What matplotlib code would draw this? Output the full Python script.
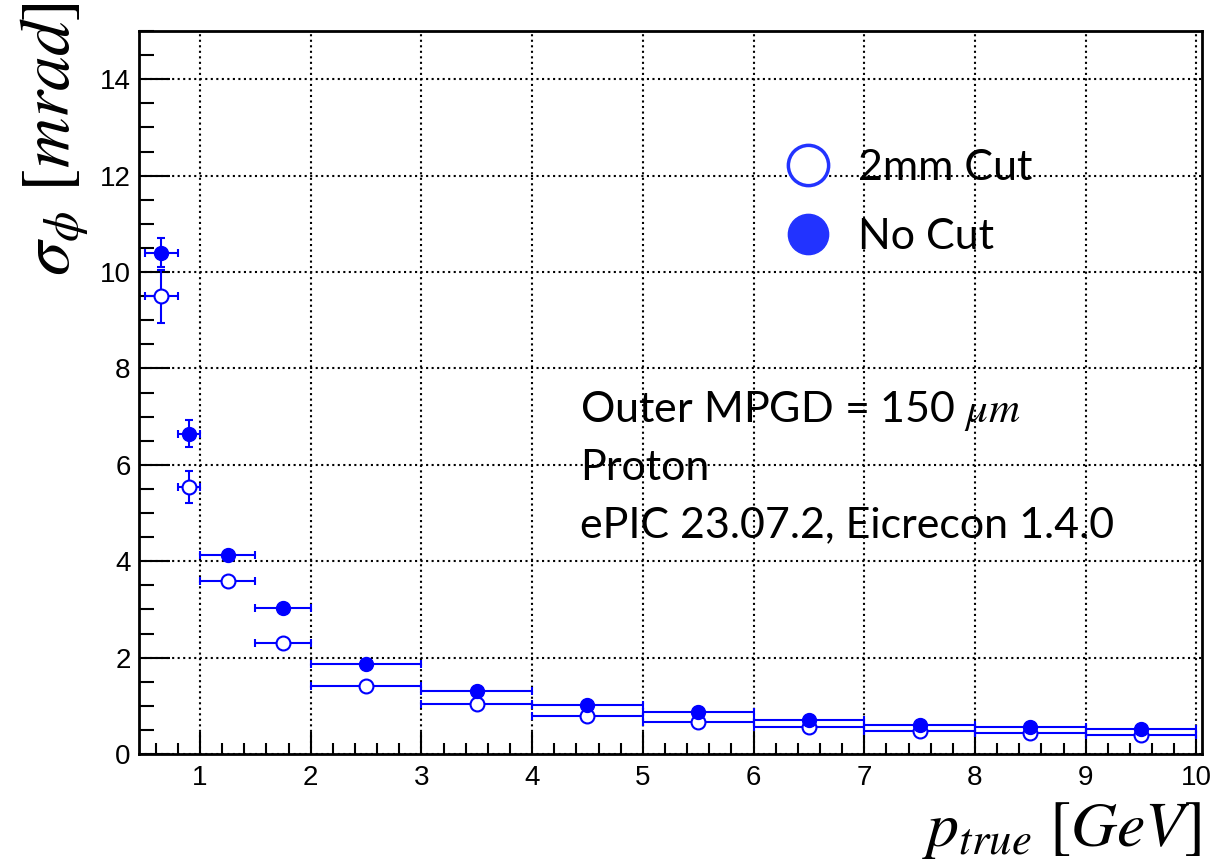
import numpy as np
import matplotlib.pyplot as plt
from matplotlib.lines import Line2D
from matplotlib.ticker import MultipleLocator

# bins in p_true [GeV]
bin_lo = [0.5, 0.8, 1.0, 1.5, 2, 3, 4, 5, 6, 7, 8, 9]
bin_hi = [0.8, 1.0, 1.5, 2.0, 3, 4, 5, 6, 7, 8, 9, 10]

# sigma_phi [mrad]
sig_nocut = [10.40, 6.65, 4.12, 3.02, 1.87, 1.31, 1.02, 0.87, 0.71, 0.60, 0.56, 0.52]
err_nocut = [0.30, 0.28, 0.05, 0.05, 0.03, 0.03, 0.02, 0.02, 0.02, 0.02, 0.02, 0.02]
sig_cut = [9.50, 5.54, 3.58, 2.31, 1.42, 1.04, 0.79, 0.67, 0.56, 0.48, 0.44, 0.40]
err_cut = [0.55, 0.34, 0.05, 0.05, 0.03, 0.03, 0.02, 0.02, 0.02, 0.02, 0.02, 0.02]

labels = ['2mm Cut', 'No Cut']
info_lines = [r'Outer MPGD = 150 $\mu m$', 'Proton', 'ePIC 23.07.2, Eicrecon 1.4.0']

plt.rcParams['mathtext.fontset'] = 'stix'

lo = np.array(bin_lo)
hi = np.array(bin_hi)
xc = (lo + hi) / 2
xerr = (hi - lo) / 2

fig = plt.figure(figsize=(12.24, 8.63), dpi=100)
ax = fig.add_axes([0.1136, 0.1263, 0.8684, 0.8377])

ax.errorbar(xc, sig_cut, xerr=xerr, yerr=err_cut, fmt='o', color='blue',
            mfc='white', mec='blue', mew=1.5, ms=10, elinewidth=1.5,
            capsize=3, capthick=1.5)
ax.errorbar(xc, sig_nocut, xerr=xerr, yerr=err_nocut, fmt='o', color='blue',
            mfc='blue', mec='blue', ms=10, elinewidth=1.5,
            capsize=3, capthick=1.5)

ax.set_xlim(0.45, 10.05)
ax.set_ylim(0, 15)
ax.xaxis.set_major_locator(MultipleLocator(1))
ax.xaxis.set_minor_locator(MultipleLocator(0.2))
ax.yaxis.set_major_locator(MultipleLocator(2))
ax.yaxis.set_minor_locator(MultipleLocator(0.5))
ax.tick_params(which='both', direction='in', width=1.5, labelsize=20,
               labelfontfamily='Liberation Sans', top=False, right=False)
ax.tick_params(axis='y', which='major', length=22, pad=6)
ax.tick_params(axis='y', which='minor', length=11)
ax.tick_params(axis='x', which='major', length=16, pad=8)
ax.tick_params(axis='x', which='minor', length=8)
for s in ax.spines.values():
    s.set_linewidth(2)
ax.grid(True, which='major', color='black', linestyle=':', linewidth=1.5)
ax.set_axisbelow(True)

ax.set_ylabel(r'$\sigma_{\phi}\ [mrad]$', fontsize=50, loc='top')
ax.yaxis.set_label_coords(-0.045, 1.04)
ax.set_xlabel(r'$p_{true}\ [GeV]$', fontsize=46, loc='right')
ax.xaxis.set_label_coords(1.0, -0.062)

# legend proxies: just the big markers, no error bars
handles = [Line2D([], [], ls='none', marker='o', ms=29, mfc='white',
                  mec='#2233ff', mew=2.5),
           Line2D([], [], ls='none', marker='o', ms=29, mfc='#2233ff',
                  mec='#2233ff')]
ax.legend(handles, labels, loc='upper left', bbox_to_anchor=(0.601, 0.837),
          frameon=False, handlelength=1.4, handletextpad=0.45,
          labelspacing=0.72, borderpad=0, borderaxespad=0,
          prop={'family': 'Lato', 'size': 31})

for txt, yy in zip(info_lines, [0.459, 0.379, 0.300]):
    ax.text(0.415, yy, txt, transform=ax.transAxes, fontsize=31,
            family='Lato', va='baseline')

fig.savefig('out.png', dpi=100)
